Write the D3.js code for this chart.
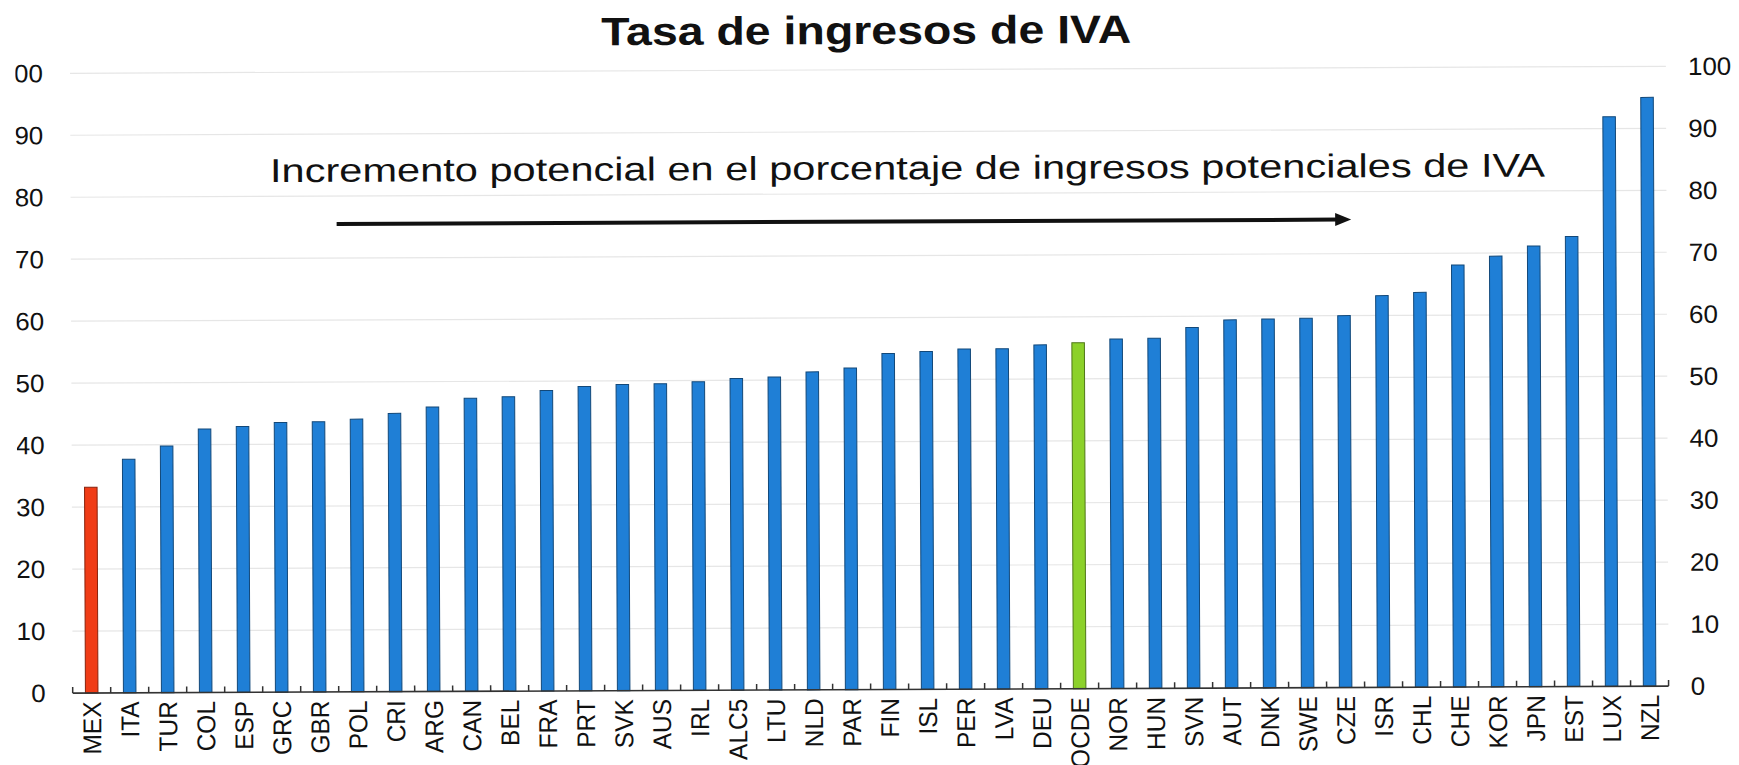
<!DOCTYPE html>
<html>
  <head>
    <meta charset="utf-8" />
    <title>Tasa de ingresos de IVA</title>
    <script type="text/javascript" src="https://d3js.org/d3.v7.min.js"></script>
    <style>
      body { margin: 0; background: #fff; }
      text { font-family: "Liberation Sans", Arial, sans-serif; fill: #111; }
    </style>
  </head>
  <body>
    <div id="chart"></div>
    <script>
// categories, left to right
const countries = ['MEX', 'ITA', 'TUR', 'COL', 'ESP', 'GRC', 'GBR', 'POL', 'CRI', 'ARG',
  'CAN', 'BEL', 'FRA', 'PRT', 'SVK', 'AUS', 'IRL', 'ALC5', 'LTU', 'NLD',
  'PAR', 'FIN', 'ISL', 'PER', 'LVA', 'DEU', 'OCDE', 'NOR', 'HUN', 'SVN',
  'AUT', 'DNK', 'SWE', 'CZE', 'ISR', 'CHL', 'CHE', 'KOR', 'JPN', 'EST',
  'LUX', 'NZL'];

// VAT revenue ratio
const ratios = [33.2, 37.7, 39.8, 42.5, 42.9, 43.5, 43.6, 44.0, 44.9, 45.9,
  47.3, 47.5, 48.5, 49.1, 49.4, 49.5, 49.8, 50.3, 50.5, 51.3,
  51.9, 54.2, 54.5, 54.9, 54.9, 55.5, 55.8, 56.4, 56.5, 58.2,
  59.4, 59.5, 59.6, 60.0, 63.2, 63.7, 68.1, 69.5, 71.1, 72.6,
  91.9, 95.0];

const yTicks = [0, 10, 20, 30, 40, 50, 60, 70, 80, 90, 100];

const highlight = { MEX: '#f03c16', OCDE: '#8cd12a' };
const barColor = '#1f7fd6';

const title = 'Tasa de ingresos de IVA';
const note = 'Incremento potencial en el porcentaje de ingresos potenciales de IVA';

const W = 1739, H = 765;
const x0 = 72.7, x1 = 1668.6, yBase = 689.6, yTop = 69.8;

const svg = d3.select('#chart').append('svg')
  .attr('width', W).attr('height', H)
  .attr('viewBox', `0 0 ${W} ${H}`);

// the picture is cropped a little on the left
svg.append('clipPath').attr('id', 'crop')
  .append('rect').attr('x', 18).attr('y', 0).attr('width', W).attr('height', H);

// the scanned picture sits slightly tilted
const g = svg.append('g').attr('transform', 'rotate(-0.25, 870, 690)');

const x = d3.scaleBand().domain(countries).range([x0, x1])
  .paddingInner(0.67).paddingOuter(0.335);
const y = d3.scaleLinear().domain([0, 100]).range([yBase, yTop]);
const step = x.step();
const xAt = b => x0 + b * step; // position in band units

// gridlines
g.append('g').selectAll('line').data(yTicks.slice(1)).join('line')
  .attr('x1', x0).attr('x2', x1)
  .attr('y1', d => y(d)).attr('y2', d => y(d))
  .attr('stroke', '#e6e6e6').attr('stroke-width', 1.2);

// left and right tick labels
g.append('g').attr('clip-path', 'url(#crop)').style('font-size', '25px')
  .selectAll('text').data(yTicks).join('text')
  .attr('transform', d => `translate(${x0 - 27},${y(d)}) scale(1.04,1)`)
  .attr('dy', '0.35em').attr('text-anchor', 'end')
  .text(d => d);
g.append('g').style('font-size', '25px')
  .selectAll('text').data(yTicks).join('text')
  .attr('transform', d => `translate(${x1 + 22},${y(d)}) scale(1.04,1)`)
  .attr('dy', '0.35em').attr('text-anchor', 'start')
  .text(d => d);

// bars
g.append('g').selectAll('rect').data(countries).join('rect')
  .attr('x', d => x(d))
  .attr('width', x.bandwidth())
  .attr('y', (d, i) => y(ratios[i]))
  .attr('height', (d, i) => y(0) - y(ratios[i]))
  .attr('fill', d => highlight[d] || barColor)
  .attr('stroke', d => d3.color(highlight[d] || barColor).darker(1.6))
  .attr('stroke-width', 1);

// baseline with inward ticks at band edges
const axis = g.append('g').attr('stroke', '#333');
axis.append('line').attr('x1', x0).attr('x2', x1)
  .attr('y1', y(0)).attr('y2', y(0)).attr('stroke-width', 1.6);
axis.selectAll('line.t').data(d3.range(countries.length + 1)).join('line')
  .attr('class', 't')
  .attr('x1', i => xAt(i)).attr('x2', i => xAt(i))
  .attr('y1', y(0)).attr('y2', y(0) - 6).attr('stroke-width', 1.5);

// category labels
g.append('g').style('font-size', '24.5px').selectAll('text').data(countries).join('text')
  .attr('transform', d => `translate(${x(d) + x.bandwidth() / 2},${y(0) + 8.5}) scale(1.05,1) rotate(-90)`)
  .attr('dy', '0.36em').attr('text-anchor', 'end')
  .text(d => d);

// title
g.append('text')
  .attr('x', 869).attr('y', 44)
  .attr('text-anchor', 'middle')
  .attr('textLength', 530).attr('lengthAdjust', 'spacingAndGlyphs')
  .style('font-size', '39.5px').style('font-weight', 'bold')
  .text(title);

// annotation and arrow
g.append('text')
  .attr('x', xAt(5.25)).attr('y', y(82.3))
  .attr('textLength', 1275).attr('lengthAdjust', 'spacingAndGlyphs')
  .style('font-size', '33px')
  .text(note);

const ay = y(75.5), ax0 = xAt(7), ax1 = xAt(33.7);
g.append('line')
  .attr('x1', ax0).attr('x2', ax1 - 12)
  .attr('y1', ay).attr('y2', ay)
  .attr('stroke', '#111').attr('stroke-width', 4);
g.append('path')
  .attr('d', `M${ax1},${ay} L${ax1 - 16},${ay - 6.5} L${ax1 - 16},${ay + 6.5} Z`)
  .attr('fill', '#111');
    </script>
  </body>
</html>
